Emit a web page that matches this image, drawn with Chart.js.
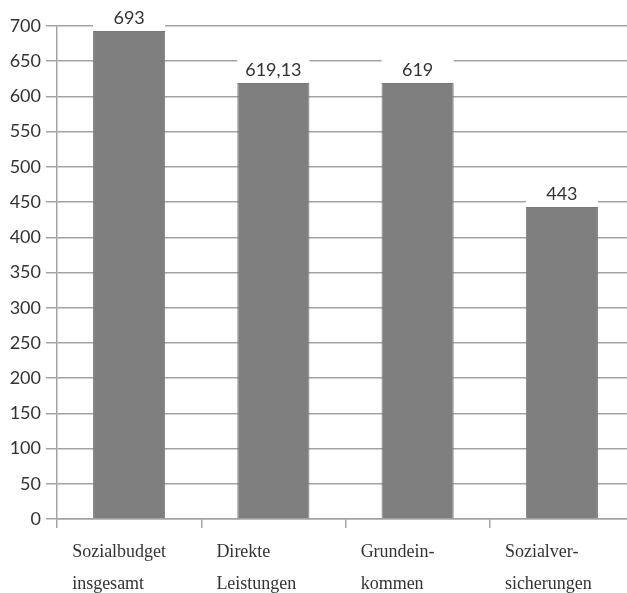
<!DOCTYPE html>
<html>
<head>
<meta charset="utf-8">
<script src="https://cdn.jsdelivr.net/npm/chart.js@4"></script>
<style>
  html, body { margin: 0; padding: 0; background: #fff; overflow: hidden; }
  #wrap { width: 634px; height: 593px; }
</style>
</head>
<body>
<div id="wrap"><canvas id="chart"></canvas></div>
<script>
// ================= DATA =================
let categories = [
    ["Sozialbudget", "insgesamt"],
    ["Direkte", "Leistungen"],
    ["Grundein-", "kommen"],
    ["Sozialver-", "sicherungen"]
];
let values = [693, 619.13, 619, 443];
let valueLabels = ["693", "619,13", "619", "443"];

let gridColor = "#a3a3a3";
let textColor = "#333333";

// ================= VALUE LABELS =================
// white box behind the number so it cuts the gridline, like the original
let valueLabelPlugin = {
    id: "valueLabels",
    afterDatasetsDraw(chart) {
        let ctx = chart.ctx;
        let meta = chart.getDatasetMeta(0);
        ctx.save();
        meta.data.forEach(function (bar, i) {
            let w = bar.width;
            ctx.fillStyle = "#ffffff";
            ctx.fillRect(bar.x - w / 2, bar.y - 28, w, 26);
            ctx.fillStyle = textColor;
            ctx.font = "18px Lato";
            ctx.textAlign = "center";
            ctx.textBaseline = "alphabetic";
            ctx.fillText(valueLabels[i], bar.x, bar.y - 7);
        });
        ctx.restore();
    }
};

// ================= CHART =================
new Chart(document.getElementById("chart"), {
    type: "bar",
    data: {
        labels: categories,
        datasets: [{
            data: values,
            backgroundColor: "#7f7f7f",
            borderColor: "#777777",
            borderWidth: 1,
            categoryPercentage: 1,
            barPercentage: 0.5
        }]
    },
    options: {
        responsive: true,
        maintainAspectRatio: false,
        animation: false,
        layout: { padding: { top: 26, right: 0, bottom: 0, left: 0 } },
        plugins: {
            legend: { display: false },
            tooltip: { enabled: false }
        },
        scales: {
            y: {
                min: 0,
                max: 700,
                afterFit: function (axis) { axis.width = 57; },
                ticks: {
                    stepSize: 50,
                    padding: 5,
                    color: textColor,
                    font: { family: "Lato", size: 18 }
                },
                grid: {
                    color: gridColor,
                    lineWidth: 1.5,
                    tickLength: 11
                },
                border: { color: gridColor, width: 1.5 }
            },
            x: {
                afterFit: function (axis) {
                    axis.height = 74;
                    axis.paddingLeft = 0;
                    axis.paddingRight = 0;
                },
                ticks: {
                    align: "start",
                    labelOffset: -57,
                    padding: 9,
                    color: textColor,
                    font: { family: "Liberation Serif", size: 18, lineHeight: 1.75 }
                },
                grid: {
                    drawOnChartArea: false,
                    color: gridColor,
                    lineWidth: 1.5,
                    tickLength: 9
                },
                border: { color: gridColor, width: 1.5 }
            }
        }
    },
    plugins: [valueLabelPlugin]
});
</script>
</body>
</html>
